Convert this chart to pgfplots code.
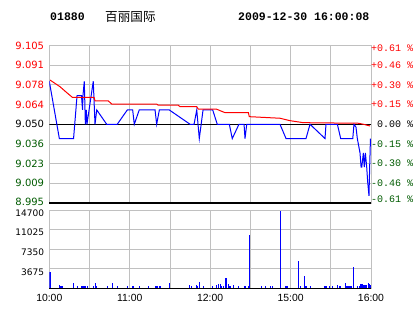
\documentclass[border=0pt]{standalone}
\usepackage{pgfplots}
\pgfplotsset{compat=1.18}
\usepackage{fontspec}
\setmainfont{DejaVu Sans}
\newfontfamily\lsans{Liberation Sans}
\newfontfamily\lmono{Liberation Mono}
\newfontfamily\cjk{Noto Sans CJK SC}
\definecolor{pred}{RGB}{255,0,0}
\definecolor{pgreen}{RGB}{0,90,0}
\definecolor{gridc}{RGB}{192,192,192}
\definecolor{pblue}{RGB}{0,0,255}
\begin{document}
\begin{tikzpicture}
\path[use as bounding box] (0pt,0pt) rectangle (414pt,314pt);
\node[anchor=west,inner sep=0pt] at (50pt,297pt) {\fontsize{11.5}{12}\lmono\bfseries 01880};
\node[anchor=west,inner sep=0pt] at (105pt,297.5pt) {\fontsize{12.6}{13}\cjk 百丽国际};
\node[anchor=west,inner sep=0pt] at (238pt,297pt) {\fontsize{11.5}{12}\lmono\bfseries 2009-12-30 16:00:08};

\begin{axis}[at={(49.3pt,111pt)}, anchor=south west, scale only axis,
  width=321.7pt, height=157.5pt,
  xmin=0, xmax=240, ymin=8.995, ymax=9.105,
  xtick={0,30,...,240}, xticklabels={},
  ytick={8.995,9.00875,9.0225,9.03625,9.05,9.06375,9.0775,9.09125,9.105},
  yticklabels={{\textcolor{pgreen}{\raisebox{3pt}{8.995}}},{\textcolor{pgreen}{9.009}},{\textcolor{pgreen}{9.023}},{\textcolor{pgreen}{9.036}},{9.050},{\textcolor{pred}{9.064}},{\textcolor{pred}{9.078}},{\textcolor{pred}{9.091}},{\textcolor{pred}{\raisebox{-2pt}{9.105}}}},
  grid=major, grid style={gridc, line width=0.8pt},
  axis line style={gridc, line width=0.8pt},
  major tick length=0pt,
  yticklabel style={anchor=east, inner sep=0pt, xshift=-5pt, font=\fontsize{10}{12}\selectfont},
  clip mode=individual]
\addplot[black, line width=1.3pt] coordinates {(0,9.05) (240,9.05)};
\addplot[pblue, line width=1pt] coordinates {
(0,9.08) (7.5,9.04) (18.1,9.04) (20.7,9.07) (24.0,9.07) (24.8,9.06) (25.1,9.07) (26.1,9.08) (26.9,9.05) (27.6,9.06) (28.1,9.05) (32.8,9.08) (34.1,9.05) (35.4,9.06) (42.8,9.05) (50.7,9.05) (58.2,9.06) (62.2,9.06) (63.4,9.05) (67.1,9.06) (78.9,9.06) (80.1,9.05) (82.1,9.06) (89.5,9.06) (105.0,9.05) (108.0,9.05) (110.0,9.06) (111.9,9.04) (114.7,9.06) (121.9,9.06) (125.3,9.05) (134.3,9.05) (136.5,9.04) (141.5,9.05) (145.3,9.05) (146.0,9.04) (147.3,9.05) (172.1,9.05) (176.6,9.04) (191.5,9.04) (194.5,9.05) (205.7,9.04) (206.4,9.05) (214.9,9.05) (217.4,9.04) (226.4,9.04) (227.3,9.05) (228.8,9.048) (229.8,9.04) (231.8,9.03) (232.6,9.02) (233.1,9.02) (234.3,9.03) (235.0,9.02) (235.8,9.03) (236.8,9.02) (237.5,9.01) (238.5,9.00) (239.0,9.02) (239.6,9.04)};
\addplot[pred, line width=1pt] coordinates {
(0.5,9.0809) (8,9.0762) (13,9.0721) (17.2,9.0688) (33.4,9.0688) (34.1,9.0663) (44.0,9.0663) (46.6,9.0641) (80.1,9.0641) (81.3,9.0633) (96.2,9.0633) (97.5,9.0623) (110,9.0623) (111.2,9.0605) (124.9,9.0605) (127.4,9.0595) (131.1,9.0581) (148.5,9.0581) (149.2,9.0553) (172.1,9.0542) (179.6,9.0525) (189.5,9.0511) (230.5,9.0507) (234.3,9.0500) (239.3,9.0488)};
\draw[black, line width=1.3pt] (rel axis cs:0,0) -- (rel axis cs:1,0);
\node[anchor=west,inner sep=0pt,font=\fontsize{10}{12}\lmono] at (axis cs:240,9.103) {\textcolor{pred}{+0.61 \%}};
\node[anchor=west,inner sep=0pt,font=\fontsize{10}{12}\lmono] at (axis cs:240,9.0913) {\textcolor{pred}{+0.46 \%}};
\node[anchor=west,inner sep=0pt,font=\fontsize{10}{12}\lmono] at (axis cs:240,9.0775) {\textcolor{pred}{+0.30 \%}};
\node[anchor=west,inner sep=0pt,font=\fontsize{10}{12}\lmono] at (axis cs:240,9.0638) {\textcolor{pred}{+0.15 \%}};
\node[anchor=west,inner sep=0pt,font=\fontsize{10}{12}\lmono] at (axis cs:240,9.05) {\ 0.00 \%};
\node[anchor=west,inner sep=0pt,font=\fontsize{10}{12}\lmono] at (axis cs:240,9.0362) {\textcolor{pgreen}{-0.15 \%}};
\node[anchor=west,inner sep=0pt,font=\fontsize{10}{12}\lmono] at (axis cs:240,9.0225) {\textcolor{pgreen}{-0.30 \%}};
\node[anchor=west,inner sep=0pt,font=\fontsize{10}{12}\lmono] at (axis cs:240,9.0088) {\textcolor{pgreen}{-0.46 \%}};
\node[anchor=west,inner sep=0pt,font=\fontsize{10}{12}\lmono] at (axis cs:240,8.9975) {\textcolor{pgreen}{-0.61 \%}};
\end{axis}

\begin{axis}[at={(49.3pt,25.7pt)}, anchor=south west, scale only axis,
  width=321.7pt, height=78.3pt,
  xmin=0, xmax=240, ymin=0, ymax=14700,
  xtick={0,30,...,240}, xticklabels={10:00,,11:00,,12:00,,15:00,,16:00},
  ytick={0,3675,7350,11025,14700}, yticklabels={,3675,7350,11025,14700},
  scaled y ticks=false,
  grid=major, grid style={gridc, line width=0.8pt},
  axis line style={gridc, line width=0.8pt},
  major tick length=0pt,
  yticklabel style={anchor=east, inner sep=0pt, xshift=-5pt, yshift=-3pt, font=\fontsize{9}{11}\selectfont},
  xticklabel style={anchor=north, inner sep=0pt, yshift=-6pt, font=\lsans\fontsize{10.4}{12}\selectfont},
  clip mode=individual]
\addplot[ycomb, pblue, line width=1.1pt] table {
x y
0.5 3130
7.5 620
8.4 400
9.5 400
17.9 1000
20.9 400
23.7 400
25.1 400
25.9 400
26.6 400
28.6 400
32.8 400
34.3 1000
35.4 400
43.3 400
47.0 1000
50.7 400
58.2 400
62.2 400
63.0 400
67.1 400
73.9 400
78.9 400
79.6 400
80.4 400
82.6 400
89.5 1000
104.5 620
106.2 400
109.5 620
110.2 500
111.9 1190
114.9 400
121.9 400
124.9 620
126.2 800
127.4 800
128.6 400
130.0 400
131.8 1940
133.5 800
134.8 400
137.3 620
141.0 400
145.3 400
146.0 400
148.5 400
149.2 10060
158.5 400
161.0 400
164.7 400
166.7 400
172.3 14510
176.6 400
177.3 400
185.8 5120
187.6 400
190.3 2310
191.5 400
195.0 400
205.7 400
206.4 400
208.9 400
211.4 400
214.9 620
216.9 400
220.8 1070
222.1 400
223.6 400
225.1 400
226.8 4060
230.1 400
231.1 400
232.3 800
233.3 800
234.4 600
235.5 600
236.6 600
238.0 1070
238.9 900
239.6 600
};
\draw[black, line width=1.3pt] (rel axis cs:0,0) -- (rel axis cs:1,0);
\end{axis}
\end{tikzpicture}
\end{document}
